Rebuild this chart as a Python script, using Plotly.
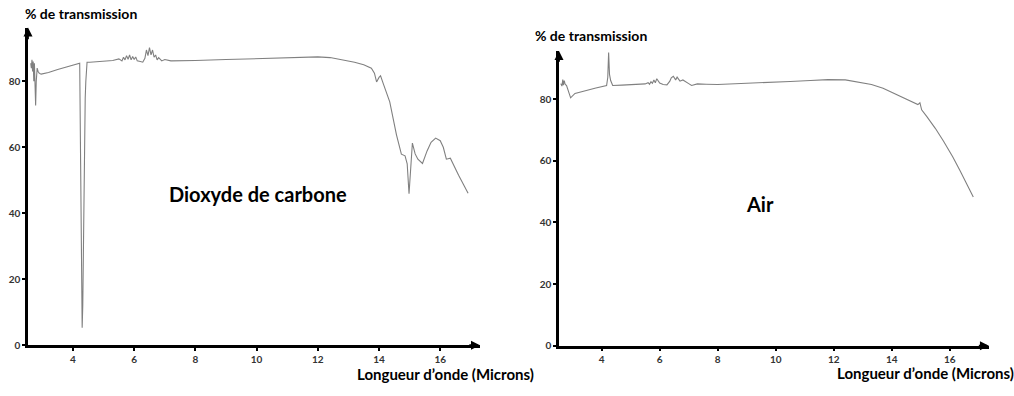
import plotly.graph_objects as go

# ---- Data: CO2 spectrum (left panel) ----
co2_x = [2.62, 2.64, 2.66, 2.68, 2.70, 2.72, 2.74, 2.76, 2.78, 2.80,
         2.83, 2.86, 2.90, 2.96, 3.2, 3.5, 3.8, 4.1, 4.22, 4.25,
         4.28, 4.30, 4.32, 4.35, 4.40, 4.42, 4.46, 4.55, 4.8, 5.0,
         5.3, 5.5, 5.6, 5.65, 5.7, 5.75, 5.8, 5.85, 5.9, 5.95,
         6.0, 6.05, 6.1, 6.2, 6.28, 6.35, 6.4, 6.45, 6.5, 6.55,
         6.6, 6.65, 6.7, 6.75, 6.8, 6.9, 7.0, 7.2, 7.5, 8.0,
         9.0, 10.0, 11.0, 12.0, 12.4, 12.8, 13.2, 13.5, 13.75, 13.85,
         13.92, 14.0, 14.05, 14.15, 14.35, 14.57, 14.73, 14.85, 14.92, 14.98,
         15.04, 15.09, 15.18, 15.27, 15.42, 15.57, 15.7, 15.85, 16.0, 16.1,
         16.2, 16.33, 16.6, 16.91]
co2_y = [85.5, 84, 86.5, 83, 86, 80, 85.5, 77, 72.7, 80,
         84, 83, 82.4, 82.2, 82.7, 83.6, 84.4, 85.1, 85.5, 55,
         15, 5.3, 12, 40, 75, 80, 85.8, 85.8, 86, 86,
         86.3, 86.8, 86.2, 87.3, 86.5, 87.8, 86.7, 88, 86.5, 87.5,
         86.6, 87.4, 86.2, 86, 85.8, 87, 89.5, 87.8, 90.2, 88,
         89.5, 87.3, 88, 86.5, 87.2, 86.2, 86.6, 86.2, 86.2, 86.3,
         86.6, 86.9, 87.2, 87.4, 87.2, 86.6, 85.8, 85, 84, 82.5,
         79.8, 81.2, 81.7, 79, 73.8, 63.8, 57.9, 57.4, 55, 45.9,
         54, 61.3, 58, 56.4, 55.1, 58.9, 61.5, 62.8, 62, 60,
         56.4, 56.7, 51.5, 46.1]

# ---- Data: Air spectrum (right panel) ----
air_x = [2.59, 2.63, 2.66, 2.68, 2.71, 2.74, 2.79, 2.85, 2.93, 3.08,
         3.4, 3.8, 4.17, 4.21, 4.24, 4.27, 4.31, 4.38, 4.7, 5.0,
         5.3, 5.5, 5.6, 5.65, 5.7, 5.75, 5.8, 5.85, 5.9, 6.0,
         6.12, 6.25, 6.35, 6.4, 6.47, 6.55, 6.6, 6.7, 6.8, 6.87,
         7.0, 7.1, 7.3, 7.6, 8.0, 9.0, 9.8, 10.5, 11.2, 11.8,
         12.4, 12.9, 13.3, 13.7, 14.06, 14.5, 14.74, 14.9, 14.97, 15.03,
         15.21, 15.5, 15.78, 16.1, 16.35, 16.6, 16.81]
air_y = [85, 84.2, 86.3, 84.5, 86, 84.8, 84.4, 82.5, 80.4, 81.8,
         82.7, 83.6, 84.4, 87, 95.1, 88, 86, 84.4, 84.5, 84.6,
         84.6, 84.9, 85.3, 84.8, 85.6, 85.1, 86.2, 85.3, 86.6, 85.2,
         84.7, 84.6, 85.8, 86.9, 87.4, 86.2, 87.1, 85.8, 86.2, 85.7,
         85, 84.4, 84.9, 84.8, 84.7, 85.1, 85.3, 85.7, 86, 86.3,
         86.2, 85.5, 84.7, 83.5, 81.9, 80.2, 79.1, 78.2, 78.8, 76.5,
         74.3, 70.5, 66.4, 61.3, 56.8, 52.3, 48.2]

x_ticks = [4, 6, 8, 10, 12, 14, 16]
y_ticks = [0, 20, 40, 60, 80]
y_title = "% de transmission"
x_title = "Longueur d\u2019onde (Microns)"
labels = ["Dioxyde de carbone", "Air"]

FONT = "Lato"
LINE = "#808080"

fig = go.Figure()
fig.add_trace(go.Scatter(x=co2_x, y=co2_y, mode="lines", xaxis="x", yaxis="y",
                         line=dict(color=LINE, width=1.1), showlegend=False, hoverinfo="skip"))
fig.add_trace(go.Scatter(x=air_x, y=air_y, mode="lines", xaxis="x2", yaxis="y2",
                         line=dict(color=LINE, width=1.1), showlegend=False, hoverinfo="skip"))

def xa(domain, anchor, rng):
    return dict(domain=domain, anchor=anchor, range=rng, showgrid=False, zeroline=False,
                showline=True, linecolor="black", linewidth=2.5,
                tickmode="array", tickvals=x_ticks, ticks="outside", ticklen=3,
                tickwidth=1.5, tickcolor="black",
                tickfont=dict(family=FONT, size=10, color="#333", weight="bold"))

def ya(domain, anchor, rng):
    return dict(domain=domain, anchor=anchor, range=rng, showgrid=False, zeroline=False,
                showline=True, linecolor="black", linewidth=2.5,
                tickmode="array", tickvals=y_ticks, ticks="outside", ticklen=3,
                tickwidth=1.5, tickcolor="black",
                tickfont=dict(family=FONT, size=10, color="#333", weight="bold"))

L_X = [2.53, 17.3]
L_Y = [0, 96.3]
R_X = [2.53, 17.35]
R_Y = [0, 95.6]

fig.update_layout(
    width=1014, height=396,
    margin=dict(l=0, r=0, t=0, b=0),
    paper_bgcolor="white", plot_bgcolor="white",
    xaxis=xa([0.0276, 0.4734], "y", L_X),
    yaxis=ya([0.1149, 0.9293], "x", L_Y),
    xaxis2=xa([0.5513, 0.9753], "y2", R_X),
    yaxis2=ya([0.1136, 0.8694], "x2", R_Y),
)

ann = []
# axis arrows
for xr, yr, xrng, yrng in [("x", "y", L_X, L_Y), ("x2", "y2", R_X, R_Y)]:
    ann.append(dict(x=xrng[1], y=0, ax=xrng[1] - 0.4, ay=0, xref=xr, yref=yr, axref=xr, ayref=yr,
                    text="", showarrow=True, arrowhead=2, arrowsize=1, arrowwidth=1.8, arrowcolor="black"))
    ann.append(dict(x=xrng[0], y=yrng[1], ax=xrng[0], ay=yrng[1] - 4, xref=xr, yref=yr, axref=xr, ayref=yr,
                    text="", showarrow=True, arrowhead=2, arrowsize=1, arrowwidth=1.8, arrowcolor="black"))

def ptext(txt, x, y, size, anchor="left", weight="bold"):
    return dict(text=txt, x=x / 1014, y=1 - y / 396, xref="paper", yref="paper",
                xanchor=anchor, yanchor="middle", showarrow=False,
                font=dict(family=FONT, size=size, color="black", weight=weight))

ann.append(ptext(y_title, 23, 14, 14))
ann.append(ptext(y_title, 533, 36, 14))
ann.append(ptext(x_title, 355, 380, 15))
ann.append(ptext(x_title, 835, 379, 15))
ann.append(ptext(labels[0], 258, 197, 20, anchor="center"))
ann.append(ptext(labels[1], 760, 207, 20, anchor="center"))

fig.update_layout(annotations=ann)
fig.write_html("out.html")
